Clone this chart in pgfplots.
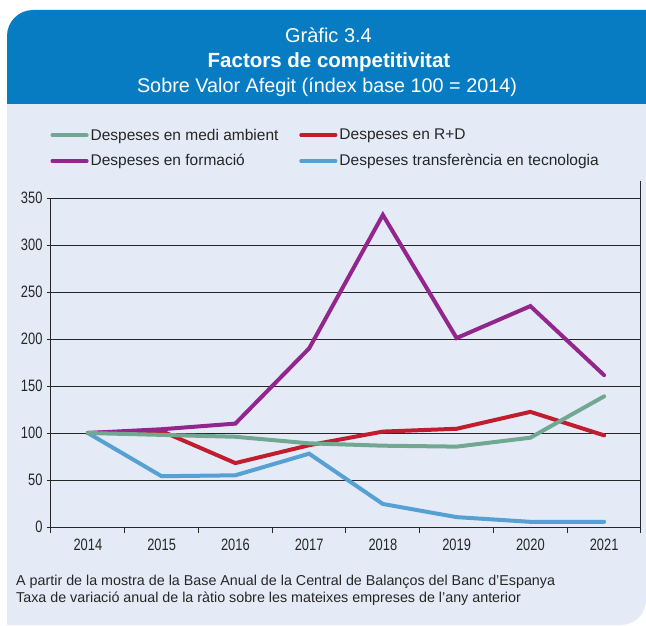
\documentclass[border=0pt]{standalone}
\usepackage{pgfplots}
\pgfplotsset{compat=1.18}
\usepackage{fontspec}
\setmainfont{Liberation Sans}
\newfontfamily\tickfont{Liberation Sans}[FakeStretch=0.78]
\definecolor{hdr}{RGB}{8,124,194}
\definecolor{bgc}{RGB}{228,235,246}
\definecolor{cgreen}{RGB}{114,168,146}
\definecolor{cred}{RGB}{192,30,46}
\definecolor{cpurple}{RGB}{146,38,140}
\definecolor{cblue}{RGB}{86,160,212}
\pgfplotstableread{
x green red purple blue
0 100 100 100 100
1 98 102 104 54
2 96 68 110 55
3 89 87 190 78
4 86.5 101.5 332 24.5
5 85.5 104.5 201 10.5
6 95 122.5 235 5.5
7 139 97.5 161.5 5.5
}\datatable
\begin{document}
\begin{tikzpicture}[x=1pt,y=1pt]
\path (0,0) rectangle (646,625);
% light box
\fill[bgc] (7,0) -- (7,521) -- (646,521) -- (646,25) arc[start angle=0,end angle=-90,radius=25] -- cycle;
% header
\fill[hdr] (7,521) -- (7,589) arc[start angle=180,end angle=90,radius=26] -- (646,615) -- (646,521) -- cycle;
\node[white,anchor=base,font=\fontsize{20}{20}\selectfont,inner sep=0pt] at (328.5,582) {Gràfic 3.4};
\node[white,anchor=base,font=\fontsize{20.5}{20.5}\selectfont\bfseries,inner sep=0pt] at (329,557) {Factors de competitivitat};
\node[white,anchor=base,font=\fontsize{19.8}{19.8}\selectfont,inner sep=0pt] at (327,532) {Sobre Valor Afegit (índex base 100 = 2014)};
% footnote
\node[anchor=base west,font=\fontsize{14.3}{14.3}\selectfont,inner sep=0pt,text=black!85] at (16,40) {A partir de la mostra de la Base Anual de la Central de Balanços del Banc d’Espanya};
\node[anchor=base west,font=\fontsize{14.3}{14.3}\selectfont,inner sep=0pt,text=black!85] at (16,23) {Taxa de variació anual de la ràtio sobre les mateixes empreses de l’any anterior};
\begin{axis}[
  at={(51pt,98pt)}, anchor=south west,
  scale only axis, width=590pt, height=329pt,
  xmin=-0.5, xmax=7.5, ymin=0, ymax=350,
  clip=false,
  axis x line=bottom, axis y line=left,
  axis line style={-, black!85, line width=1pt},
  xtick={0,...,7},
  xticklabels={2014,2015,2016,2017,2018,2019,2020,2021},
  major x tick style={draw=none},
  minor xtick={-0.5,0.5,...,7.5},
  minor x tick style={black!85, line width=1pt},
  minor tick length=6pt,
  ytick={0,50,...,350},
  major tick length=4pt,
  y tick style={black!85, line width=1pt},
  tick align=outside,
  ymajorgrids,
  grid style={black!85, line width=1pt},
  /pgf/number format/assume math mode=true,
  ticklabel style={font=\tickfont\fontsize{16.5}{16.5}\selectfont, text=black!85},
  xticklabel style={yshift=-4pt},
  yticklabel style={xshift=-1pt},
  legend style={at={(axis description cs:-0.006,1.223)}, anchor=north west, draw=none, fill=none,
    font=\fontsize{15.5}{15.5}\selectfont, text=black!85, row sep=9pt,
    /tikz/every even column/.append style={column sep=19pt}},
  legend columns=2,
  legend cell align=left,
  legend image code/.code={\draw[#1, line cap=round] (0pt,0pt) -- (30pt,0pt);\path (0pt,0pt) -- (34pt,0pt);},
  every axis plot/.append style={line width=4pt, line cap=round},
]
\addlegendimage{cgreen, line width=4pt}
\addlegendentry{Despeses en medi ambient}
\addlegendimage{cred, line width=4pt}
\addlegendentry{Despeses en R+D}
\addlegendimage{cpurple, line width=4pt}
\addlegendentry{Despeses en formació}
\addlegendimage{cblue, line width=4pt}
\addlegendentry{Despeses transferència en tecnologia}
\addplot[cblue, forget plot] table[x=x,y=blue] {\datatable};
\addplot[cred, forget plot] table[x=x,y=red] {\datatable};
\addplot[cpurple, forget plot] table[x=x,y=purple] {\datatable};
\addplot[cgreen, forget plot] table[x=x,y=green] {\datatable};
\draw[black!85, line width=1pt] (axis cs:7.5,0) -- (axis cs:7.5,368);
\end{axis}
\end{tikzpicture}
\end{document}
